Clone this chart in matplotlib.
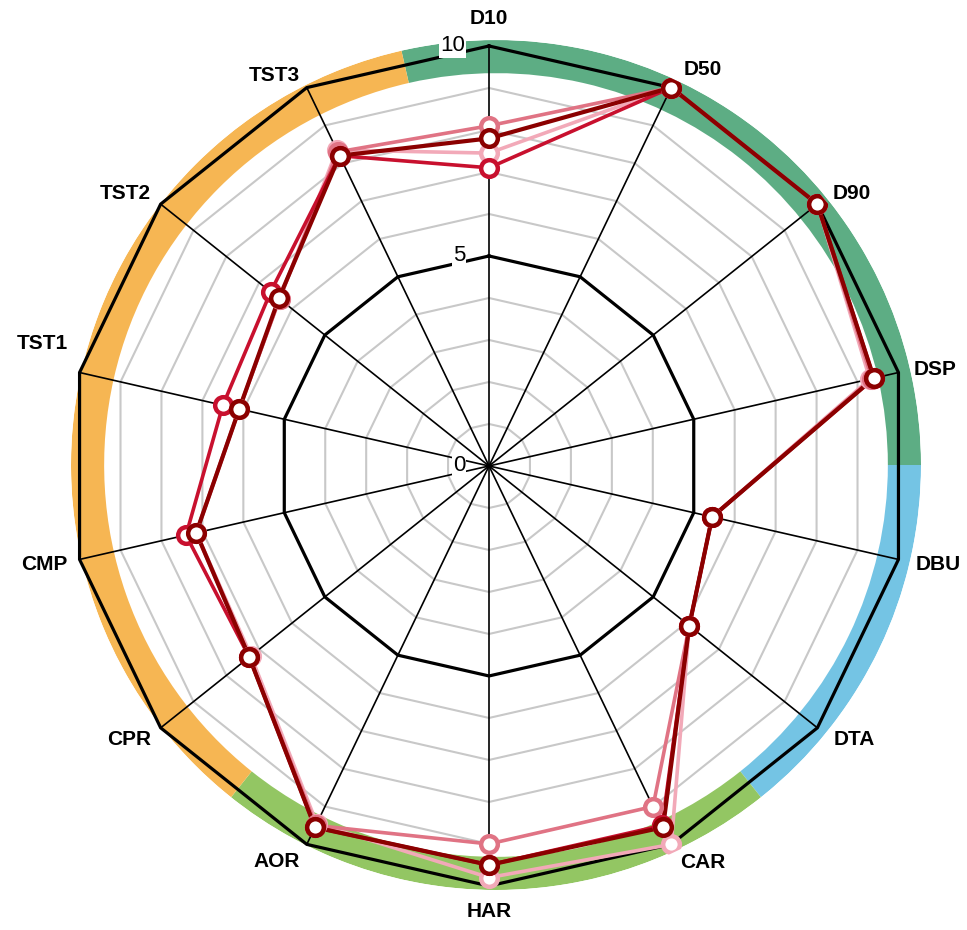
import numpy as np
import matplotlib
matplotlib.use("Agg")
import matplotlib.pyplot as plt

plt.rcParams['font.family'] = ['Liberation Sans', 'DejaVu Sans']

categories = ["D10", "D50", "D90", "DSP", "DBU", "DTA", "CAR", "HAR",
              "AOR", "CPR", "CMP", "TST1", "TST2", "TST3"]

series_lightpink = [7.45, 10.0, 10.0, 9.30, 5.45, 6.10, 10.0, 9.80, 9.45, 7.25, 7.15, 6.10, 6.38, 8.35]
series_coral     = [8.10, 10.0, 10.0, 9.35, 5.45, 6.10, 9.00, 9.00, 9.50, 7.30, 7.15, 6.10, 6.38, 8.30]
series_crimson   = [7.10, 10.0, 10.0, 9.40, 5.45, 6.10, 9.50, 9.50, 9.55, 7.30, 7.40, 6.50, 6.65, 8.20]
series_darkred   = [7.80, 10.0, 10.0, 9.40, 5.45, 6.10, 9.55, 9.50, 9.55, 7.30, 7.15, 6.10, 6.40, 8.20]

series_list = [series_lightpink, series_coral, series_crimson, series_darkred]
series_colors = ['#F2A9B8', '#E07384', '#C8102E', '#8B0000']
series_widths = [2.6, 2.6, 2.6, 3.0]

# groups of the outer band: (first category index, last category index, colour)
band_groups = [(0, 3, '#5DAD84'), (4, 5, '#74C4E4'), (6, 8, '#93C663'), (9, 13, '#F6B653')]

tick_values = [0, 5, 10]

n = len(categories)
angles = np.arange(n) * 2 * np.pi / n
step = 2 * np.pi / n

fig = plt.figure(figsize=(9.67, 9.30), dpi=100)

# band axes (slightly offset circle behind the radar)
axb = fig.add_axes([71 / 967, 40 / 930, 850 / 967, 850 / 930], projection='polar')
axb.set_theta_zero_location('N')
axb.set_theta_direction(-1)
axb.set_ylim(0, 1)
axb.axis('off')
for i0, i1, col in band_groups:
    start = angles[i0] - step / 2
    end = angles[i1] + step / 2
    axb.bar((start + end) / 2, 1 - 0.922, width=end - start, bottom=0.922,
            color=col, edgecolor='none')

R_OUT = 10.2
ax = fig.add_axes([0.0627, 0.0383, 0.886, 0.9213], projection='polar')
ax.patch.set_alpha(0)
ax.set_theta_zero_location('N')
ax.set_theta_direction(-1)
ax.set_ylim(0, R_OUT)
ax.grid(False)
ax.spines['polar'].set_visible(False)
ax.set_xticks([])
ax.set_yticks([])

closed = np.append(angles, angles[0])
# polygon grid rings
for v in range(1, 11):
    if v in (5, 10):
        ax.plot(closed, [v] * (n + 1), color='black', lw=2.3, zorder=3)
    else:
        ax.plot(closed, [v] * (n + 1), color='#C8C8C8', lw=1.5, zorder=2)

# spokes
for a in angles:
    ax.plot([a, a], [0, 10], color='black', lw=1.2, zorder=3)

# tick labels
for v in tick_values:
    ax.annotate(str(v), xy=(0, v), xytext=(-24, 0), textcoords='offset pixels',
                ha='right', va='center', fontsize=16, color='black', zorder=4,
                bbox=dict(boxstyle='square,pad=0.05', fc='white', ec='none'))

# data series
for vals, col, lw in zip(series_list, series_colors, series_widths):
    vv = np.append(vals, vals[0])
    ax.plot(closed, vv, color=col, lw=lw, zorder=5, solid_joinstyle='round')
    ax.plot(angles, vals, linestyle='none', marker='o', markersize=12,
            markerfacecolor='white', markeredgecolor=col, markeredgewidth=3.2, zorder=6)

# category labels
label_offsets = {
    "D10": (0, 27, 'center'), "D50": (12, 18, 'left'), "D90": (15, 11, 'left'),
    "DSP": (15, 3, 'left'), "DBU": (17, -5, 'left'), "DTA": (16, -12, 'left'),
    "CAR": (9, -18, 'left'), "HAR": (0, -26, 'center'), "AOR": (-7, -17, 'right'),
    "CPR": (-10, -12, 'right'), "CMP": (-12, -5, 'right'), "TST1": (-12, 29, 'right'),
    "TST2": (-10, 11, 'right'), "TST3": (-7, 12, 'right'),
}
for a, c in zip(angles, categories):
    dx, dy, ha = label_offsets[c]
    ax.annotate(c, xy=(a, 10), xytext=(dx, dy), textcoords='offset pixels',
                ha=ha, va='center', fontsize=15, fontweight='bold', color='black',
                zorder=7, annotation_clip=False)

fig.savefig('out.png', dpi=100)
